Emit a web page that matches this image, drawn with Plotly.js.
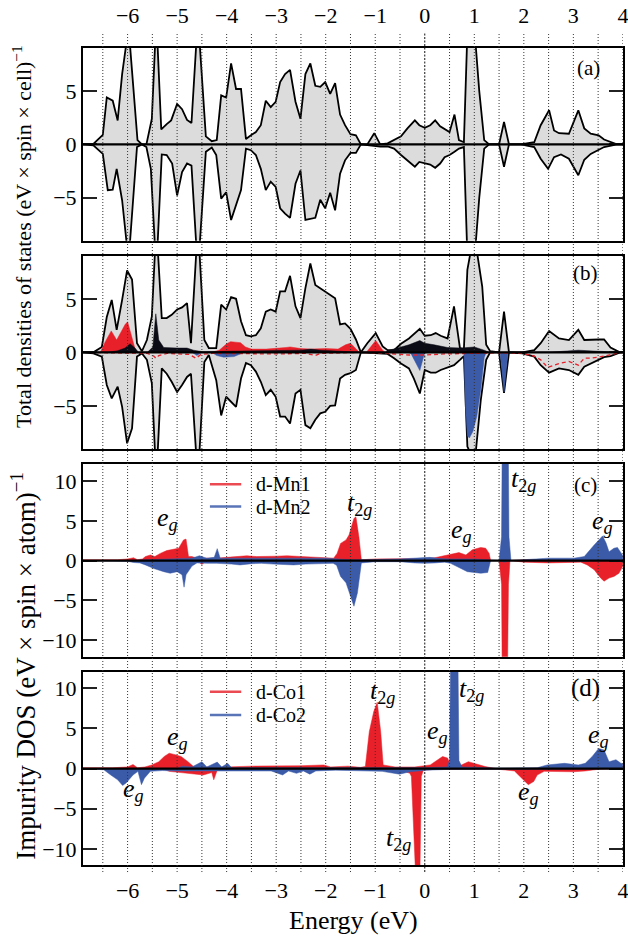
<!DOCTYPE html>
<html>
<head>
<meta charset="utf-8">
<script src="https://cdn.plot.ly/plotly-3.0.1.min.js"></script>
<style>html,body{margin:0;padding:0;background:#fff;}#plot{width:628px;height:950px;}</style>
</head>
<body>
<div id="plot"></div>
<script>
// ---------------- DATA (energy eV, DOS) ----------------
const xTicks = [-6,-5,-4,-3,-2,-1,0,1,2,3,4];
const gridE = [-6.5,-6,-5.5,-5,-4.5,-4,-3.5,-3,-2.5,-2,-1.5,-1,-0.5,0,0.5,1,1.5,2,2.5,3,3.5,4];

// panel (a): total DOS, spin up / spin down
const aUp = [[-6.9,0],[-6.69,0.05],[-6.5,0.9],[-6.42,4.4],[-6.3,4.1],[-6.2,2.25],[-6.11,6.6],[-5.98,11],[-5.8,0.4],[-5.71,0],[-5.62,0],[-5.51,2.4],[-5.42,12],[-5.32,1.4],[-5.21,1.9],[-5.12,2.25],[-5.0,3.8],[-4.9,3.3],[-4.8,2.3],[-4.71,2.0],[-4.58,12],[-4.42,0.75],[-4.3,0.3],[-4.2,0.4],[-4.11,4.6],[-4.01,4.4],[-3.91,7.6],[-3.81,5.2],[-3.71,5.2],[-3.61,0.5],[-3.51,0.85],[-3.41,1.15],[-3.31,1.8],[-3.21,4.1],[-3.11,3.5],[-3.01,4.0],[-2.92,5.85],[-2.82,6.6],[-2.72,7.0],[-2.61,4.0],[-2.51,2.4],[-2.41,6.6],[-2.31,7.6],[-2.21,5.5],[-2.11,5.4],[-2.01,5.85],[-1.91,4.75],[-1.81,5.75],[-1.71,2.8],[-1.61,1.8],[-1.5,0.95],[-1.39,0.85],[-1.29,0],[-1.16,0],[-1.02,1.05],[-0.9,0],[-0.75,0.1],[-0.62,0.4],[-0.48,0.75],[-0.35,1.5],[-0.2,2.25],[-0.11,1.8],[0,1.55],[0.11,1.8],[0.21,2.25],[0.31,1.7],[0.4,1.4],[0.5,1.15],[0.6,2.8],[0.69,0.4],[0.79,0.2],[0.83,7],[0.87,12],[0.95,14],[1.03,9.3],[1.1,5],[1.2,0.4],[1.3,0],[1.5,0],[1.6,2.1],[1.7,0],[1.94,0],[2.21,0.2],[2.34,1.8],[2.51,3.2],[2.61,1.3],[2.71,1.05],[2.91,1.0],[3.1,3.2],[3.22,1.5],[3.35,1.0],[3.51,0.85],[3.62,0.45],[3.72,0.3],[3.88,0],[4.0,0]];
const aDn = [[-6.9,0],[-6.69,-0.1],[-6.5,-0.9],[-6.4,-4.3],[-6.3,-4.25],[-6.22,-2.3],[-6.11,-5.25],[-5.98,-11],[-5.81,-0.25],[-5.71,0],[-5.62,-0.25],[-5.53,-2.3],[-5.42,-12],[-5.31,-0.95],[-5.21,-1.0],[-5.1,-1.8],[-5.0,-4.8],[-4.9,-2.6],[-4.8,-1.8],[-4.71,-2.0],[-4.58,-12],[-4.42,-0.7],[-4.3,-0.3],[-4.21,-1.0],[-4.11,-5.1],[-4.01,-4.5],[-3.91,-7.1],[-3.81,-5.6],[-3.71,-4.3],[-3.61,-0.4],[-3.51,-0.55],[-3.41,-1.0],[-3.31,-2.3],[-3.21,-4.3],[-3.11,-3.5],[-3.01,-4.0],[-2.92,-6.0],[-2.82,-6.5],[-2.72,-6.9],[-2.61,-3.7],[-2.51,-2.45],[-2.41,-7.1],[-2.31,-7.0],[-2.21,-6.9],[-2.11,-5.2],[-2.01,-6.0],[-1.91,-4.55],[-1.81,-6.2],[-1.71,-2.75],[-1.61,-1.5],[-1.5,-0.8],[-1.39,-0.8],[-1.29,0],[-0.9,-0.2],[-0.75,-0.2],[-0.62,-0.4],[-0.48,-1.0],[-0.35,-1.5],[-0.2,-2.1],[-0.11,-1.65],[0,-1.75],[0.11,-1.9],[0.21,-2.2],[0.31,-1.8],[0.4,-1.2],[0.5,-1.0],[0.6,-0.7],[0.69,-0.4],[0.79,-0.25],[0.83,-7],[0.87,-12],[0.95,-14],[1.03,-9.3],[1.1,-5],[1.2,-0.4],[1.3,0],[1.5,0],[1.6,-2.1],[1.7,0],[1.94,0],[2.21,-0.25],[2.34,-1.35],[2.49,-2.3],[2.61,-1.2],[2.75,-0.95],[2.91,-1.35],[3.1,-2.9],[3.22,-1.45],[3.35,-0.9],[3.51,-0.55],[3.62,-0.25],[3.88,0],[4.0,0]];

// panel (b): total DOS + partial contributions
const bUp = [[-6.9,0],[-6.69,0],[-6.52,0.5],[-6.42,3.3],[-6.32,4.9],[-6.22,2.1],[-6.11,4.9],[-6.01,7.65],[-5.91,6.8],[-5.81,0.85],[-5.71,0.1],[-5.61,1.15],[-5.51,3.35],[-5.42,12],[-5.31,3.2],[-5.21,3.2],[-5.11,3.5],[-5.0,4.0],[-4.9,4.2],[-4.8,4.6],[-4.72,0.85],[-4.58,12],[-4.45,1.15],[-4.36,0.4],[-4.21,0.4],[-4.11,4.45],[-4.01,4.0],[-3.91,5.15],[-3.81,5.0],[-3.71,2.9],[-3.61,1.6],[-3.51,1.5],[-3.41,1.6],[-3.31,2.25],[-3.21,3.8],[-3.11,4.0],[-3.01,3.8],[-2.92,5.7],[-2.82,5.7],[-2.72,7.15],[-2.61,4.3],[-2.51,3.2],[-2.41,6.0],[-2.31,8.3],[-2.21,6.3],[-2.11,6.0],[-2.01,5.7],[-1.91,5.4],[-1.81,5.05],[-1.71,2.6],[-1.61,2.7],[-1.5,2.2],[-1.39,1.2],[-1.29,0],[-1.16,0.85],[-0.99,1.8],[-0.85,0.55],[-0.75,0.2],[-0.62,0.2],[-0.48,0.8],[-0.32,1.3],[-0.1,2.2],[0,1.55],[0.12,1.6],[0.22,1.8],[0.32,1.55],[0.46,1.3],[0.59,4.3],[0.71,0.4],[0.79,0.3],[0.86,7.7],[0.93,9.5],[0.99,9.6],[1.06,9.2],[1.16,6.15],[1.24,0.7],[1.32,0.1],[1.5,0],[1.6,3.8],[1.7,0],[1.97,0],[2.21,0.2],[2.34,0.85],[2.51,2.0],[2.71,1.3],[2.91,1.15],[3.1,2.1],[3.22,1.15],[3.35,1.2],[3.51,1.2],[3.62,1.2],[3.75,0.45],[3.92,0.05],[4.0,0]];
const bDn = [[-6.9,0],[-6.69,-0.1],[-6.52,-0.4],[-6.42,-3.05],[-6.32,-4.3],[-6.2,-3.2],[-6.11,-5.1],[-6.01,-8.5],[-5.91,-7.1],[-5.81,-0.4],[-5.71,-0.1],[-5.61,-0.7],[-5.51,-2.9],[-5.42,-12],[-5.31,-1.5],[-5.21,-2.0],[-5.11,-2.75],[-5.0,-3.7],[-4.9,-3.05],[-4.8,-2.3],[-4.72,-2.0],[-4.58,-12],[-4.45,-0.9],[-4.36,-0.25],[-4.21,-2.6],[-4.11,-5.9],[-4.01,-4.15],[-3.91,-4.6],[-3.81,-5.1],[-3.71,-2.45],[-3.61,-1.0],[-3.51,-1.2],[-3.41,-1.8],[-3.31,-2.75],[-3.21,-4.0],[-3.11,-3.5],[-3.01,-4.15],[-2.92,-6.0],[-2.82,-6.0],[-2.72,-6.65],[-2.61,-3.85],[-2.51,-3.5],[-2.41,-6.8],[-2.31,-7.1],[-2.21,-6.3],[-2.11,-5.7],[-2.01,-5.55],[-1.91,-5.0],[-1.81,-4.95],[-1.71,-2.45],[-1.61,-2.1],[-1.5,-1.95],[-1.39,-1.65],[-1.29,0],[-0.75,-0.15],[-0.62,-0.55],[-0.48,-1.05],[-0.32,-1.5],[-0.22,-2.45],[-0.1,-3.85],[0,-1.65],[0.12,-1.9],[0.22,-1.9],[0.32,-1.65],[0.46,-1.4],[0.59,-1.2],[0.71,-0.7],[0.79,-0.35],[0.86,-8.8],[0.93,-9.5],[1.03,-9.3],[1.13,-4.5],[1.24,-0.7],[1.32,0],[1.5,0],[1.6,-3.8],[1.7,0],[1.97,-0.1],[2.21,-0.4],[2.34,-1.2],[2.51,-1.9],[2.71,-1.5],[2.91,-1.65],[3.1,-2.1],[3.22,-1.35],[3.35,-1.05],[3.51,-0.7],[3.62,-0.45],[3.75,-0.35],[3.92,-0.05],[4.0,0]];
const bRedUp = [[-6.9,0],[-6.55,0],[-6.45,1.0],[-6.33,2.0],[-6.22,1.15],[-6.05,2.6],[-6.0,2.85],[-5.92,1.5],[-5.83,0],[-5.6,0],[-5.45,0.3],[-5.3,0.2],[-4.8,0.2],[-4.6,0],[-4.3,0],[-4.15,0.2],[-4.0,0.8],[-3.92,1.0],[-3.72,0.9],[-3.62,0.5],[-3.5,0.3],[-3.2,0.3],[-3.0,0.35],[-2.8,0.45],[-2.72,0.5],[-2.5,0.35],[-2.3,0.3],[-2.0,0.35],[-1.75,0.3],[-1.6,0.7],[-1.5,0.85],[-1.43,0.5],[-1.32,0],[-1.18,0],[-0.99,1.1],[-0.85,0.2],[-0.8,0],[0.8,0],[0.95,0.25],[1.15,0.15],[1.3,0],[4.0,0]];
const bBlackUp = [[-6.9,0],[-6.4,0],[-6.2,0.15],[-6.05,0.4],[-5.95,0.8],[-5.85,0.4],[-5.78,0],[-5.6,0],[-5.49,0.5],[-5.43,3.6],[-5.37,1.15],[-5.27,0.45],[-5.0,0.4],[-4.8,0.4],[-4.67,0.2],[-4.47,0.05],[-4.0,0.1],[-3.5,0.15],[-3.0,0.15],[-2.5,0.2],[-2.3,0.3],[-2.1,0.2],[-1.7,0.1],[-1.5,0.05],[-1.3,0],[-0.8,0],[-0.75,0.15],[-0.48,0.5],[-0.32,0.7],[-0.1,1.1],[0,0.85],[0.19,0.7],[0.46,0.45],[0.73,0.4],[1.0,0.5],[1.2,0.2],[1.3,0],[2.5,0],[2.8,0.1],[3.1,0.2],[3.5,0.1],[3.9,0],[4.0,0]];
const bBlueDn = [[-6.9,0],[-4.7,0],[-4.6,-0.3],[-4.5,0],[-4.3,0],[-4.2,-0.3],[-4.06,-0.45],[-3.85,-0.4],[-3.75,-0.2],[-3.65,0],[-0.35,0],[-0.28,-0.1],[-0.1,-1.7],[-0.05,-0.7],[0,0],[0.79,0],[0.82,-5],[0.86,-7.8],[0.9,-8.0],[0.97,-7.4],[1.05,-6.0],[1.13,-3.5],[1.2,-0.5],[1.24,0],[1.52,0],[1.6,-3.7],[1.68,0],[4.0,0]];
const bRedDn = [[-6.9,0],[-6.5,-0.05],[-6.0,-0.1],[-5.6,-0.1],[-5.47,-0.35],[-5.43,-0.55],[-5.37,-0.3],[-5.2,-0.1],[-4.75,-0.2],[-4.62,-0.55],[-4.52,-0.2],[-4.3,-0.1],[-3.0,-0.15],[-2.4,-0.1],[-2.21,-0.3],[-2.1,-0.1],[-1.3,0],[-0.75,-0.1],[-0.32,-0.25],[0,-0.25],[0.4,-0.15],[1.0,-0.1],[1.5,-0.05],[1.97,-0.1],[2.21,-0.35],[2.34,-0.7],[2.48,-1.4],[2.71,-1.05],[2.91,-0.85],[3.1,-1.2],[3.22,-0.55],[3.35,-0.55],[3.62,-0.35],[3.92,-0.05],[4.0,0]];

// panel (c): impurity d-DOS, Mn1 / Mn2
const cMn1Up = [[-6.9,0.1],[-6.5,0.1],[-6.2,0.1],[-6.0,0.2],[-5.88,0.35],[-5.8,0.1],[-5.7,0.2],[-5.64,0.5],[-5.54,0.7],[-5.45,0.5],[-5.34,0.9],[-5.21,1.25],[-5.07,1.45],[-4.97,1.55],[-4.87,2.6],[-4.82,2.7],[-4.77,0.5],[-4.7,0.5],[-4.6,0.3],[-4.5,0.2],[-4.4,0.3],[-4.2,0.3],[-4.0,0.4],[-3.86,0.5],[-3.59,0.6],[-3.4,0.5],[-3.19,0.5],[-3.0,0.55],[-2.78,0.6],[-2.5,0.5],[-2.24,0.5],[-2.0,0.4],[-1.84,0.3],[-1.77,0.9],[-1.7,2.15],[-1.59,2.6],[-1.53,3.2],[-1.43,5.3],[-1.39,5.5],[-1.33,3.0],[-1.28,0.1],[-1.0,0.2],[-0.6,0.2],[-0.3,0.2],[0,0.25],[0.2,0.35],[0.32,0.5],[0.52,0.7],[0.69,1.0],[0.83,0.7],[0.96,1.35],[1.13,1.65],[1.23,1.55],[1.3,0.9],[1.33,0],[1.5,0],[1.6,0.2],[1.75,0],[2.0,0.1],[3.0,0.1],[4.0,0.1]];
const cMn1Dn = [[-6.9,0],[-4.6,0],[-4.5,-0.5],[-4.4,0],[-4.3,-0.1],[-3.8,-0.05],[-1.3,0],[-0.5,-0.1],[1.45,0],[1.5,0],[1.55,-3],[1.57,-20],[1.66,-20],[1.69,-3],[1.72,0],[2.0,-0.2],[2.5,-0.3],[3.0,-0.25],[3.15,-0.2],[3.28,-0.55],[3.42,-1.15],[3.55,-2.2],[3.62,-2.6],[3.72,-2.2],[3.82,-2.0],[3.92,-1.6],[3.99,-0.75],[4.0,-0.7]];
const cMn2Up = [[-6.9,0],[-5.9,0],[-5.6,0.1],[-5.0,0.2],[-4.7,0.3],[-4.55,0.6],[-4.4,0.3],[-4.25,0.4],[-4.19,1.5],[-4.13,0.3],[-3.9,0.3],[-3.5,0.3],[-3.0,0.25],[-2.5,0.3],[-2.0,0.3],[-1.5,0.1],[-1.2,0.1],[-0.5,0.2],[-0.1,0.35],[0.1,0.4],[0.3,0.25],[0.5,0.2],[1.0,0.2],[1.45,0],[1.5,0],[1.55,3],[1.57,20],[1.68,20],[1.7,3],[1.74,0],[2.0,0.1],[2.5,0.3],[3.01,0.3],[3.22,0.5],[3.42,1.95],[3.59,3.1],[3.66,2.2],[3.72,1.1],[3.82,1.55],[3.89,1.65],[3.99,0.7],[4.0,0.6]];
const cMn2Dn = [[-6.9,0],[-6.5,-0.05],[-6.0,-0.1],[-5.88,-0.25],[-5.75,-0.3],[-5.64,-0.55],[-5.47,-1.0],[-5.27,-1.4],[-5.14,-1.6],[-5.0,-1.4],[-4.9,-1.8],[-4.86,-3.35],[-4.82,-1.8],[-4.7,-0.7],[-4.6,-0.3],[-4.4,-0.35],[-4.2,-0.35],[-3.9,-0.45],[-3.73,-0.55],[-3.5,-0.4],[-3.3,-0.35],[-3.05,-0.45],[-2.8,-0.5],[-2.65,-0.55],[-2.4,-0.45],[-2.1,-0.4],[-1.85,-0.35],[-1.78,-0.6],[-1.7,-2.0],[-1.59,-2.8],[-1.49,-4.5],[-1.43,-5.75],[-1.36,-4.1],[-1.28,-0.3],[-1.0,-0.15],[-0.5,-0.15],[-0.2,-0.3],[0,-0.35],[0.2,-0.3],[0.4,-0.2],[0.52,-0.35],[0.73,-1.0],[0.86,-1.4],[1.0,-1.5],[1.13,-1.6],[1.27,-1.5],[1.33,0],[1.5,0],[1.6,-0.2],[1.75,0],[2.5,-0.1],[3.0,-0.15],[3.2,-0.1],[3.5,0],[4.0,0]];

// panel (d): impurity d-DOS, Co1 / Co2
const dCo1Up = [[-6.9,0.1],[-6.3,0.1],[-6.0,0.2],[-5.89,0.5],[-5.8,0.1],[-5.65,0.2],[-5.51,0.45],[-5.37,0.85],[-5.26,1.5],[-5.16,1.9],[-5.02,1.7],[-4.92,1.5],[-4.78,0.85],[-4.67,0.25],[-4.4,0.2],[-4.0,0.2],[-3.5,0.3],[-3.0,0.3],[-2.5,0.35],[-2.04,0.45],[-1.9,0.2],[-1.55,0.3],[-1.3,0.15],[-1.2,0.25],[-1.12,4.6],[-1.03,7.1],[-0.96,8.25],[-0.89,4.6],[-0.84,0.45],[-0.6,0.2],[-0.2,0.2],[0.11,0.45],[0.25,1.1],[0.36,1.5],[0.46,1.3],[0.52,0.45],[0.6,0.3],[0.74,0.45],[0.88,0.85],[1.0,0.65],[1.22,0.25],[1.43,0],[2.0,0],[2.5,0.1],[3.0,0.1],[4.0,0]];
const dCo1Dn = [[-6.9,0],[-5.3,0],[-5.16,-0.35],[-4.74,-0.6],[-4.47,-0.8],[-4.3,-0.5],[-4.26,-1.4],[-4.19,-0.2],[-3.5,-0.15],[-2.0,-0.1],[-1.0,-0.15],[-0.5,-0.3],[-0.41,-0.35],[-0.3,-0.6],[-0.27,-1.0],[-0.18,-14],[-0.1,-14],[-0.07,-1],[-0.03,-0.2],[0.2,-0.1],[1.5,-0.1],[1.81,-0.3],[1.92,-1.0],[1.99,-1.4],[2.09,-2.0],[2.2,-1.6],[2.27,-0.8],[2.41,-0.35],[3.0,-0.4],[3.24,-0.3],[3.5,-0.1],[4.0,0]];
const dCo2Up = [[-6.9,0],[-5.0,0],[-4.9,0.3],[-4.7,0.2],[-4.5,0.85],[-4.4,0.2],[-4.19,0.8],[-4.1,0.2],[-3.98,0.65],[-3.9,0.1],[-3.0,0.1],[-2.0,0.1],[-1.0,0.05],[0,0.1],[0.45,0.2],[0.5,1.0],[0.53,20],[0.66,20],[0.69,1.0],[0.75,0.2],[1.5,0.05],[2.27,0.1],[2.47,0.45],[2.82,0.65],[3.1,0.45],[3.24,0.65],[3.38,1.5],[3.51,2.5],[3.62,2.3],[3.72,0.85],[3.86,1.1],[3.96,0.65],[4.0,0.6]];
const dCo2Dn = [[-6.9,0],[-6.6,-0.05],[-6.48,-0.15],[-6.34,-0.8],[-6.2,-1.4],[-6.1,-2.1],[-6.03,-1.8],[-5.89,-0.8],[-5.79,-0.35],[-5.72,-2.0],[-5.66,-1.2],[-5.54,-0.35],[-5.3,-0.25],[-5.0,-0.3],[-4.5,-0.3],[-4.1,-0.35],[-3.8,-0.3],[-3.36,-0.35],[-3.1,-0.3],[-2.87,-0.8],[-2.75,-0.3],[-2.59,-0.6],[-2.45,-0.3],[-2.32,-0.7],[-2.2,-0.3],[-1.8,-0.2],[-1.2,-0.3],[-0.86,-0.35],[-0.51,-0.7],[-0.3,-0.4],[0.04,-0.2],[0.5,-0.1],[1.0,-0.1],[2.0,-0.1],[4.0,0]];

const legendNamesC = ['d-Mn1','d-Mn2'];
const legendNamesD = ['d-Co1','d-Co2'];

// orbital labels: [letter, subscript, energy, value]
const labelsC = [['e','g',-5.2,5.2],['t','2g',-1.31,7.1],['e','g',0.74,3.7],['t','2g',1.99,10.2],['e','g',3.58,4.8]];
const labelsD = [['t','2g',-0.86,9.5],['e','g',-4.99,3.8],['e','g',-5.89,-2.65],['e','g',0.25,4.5],['t','2g',0.95,9.8],['t','2g',-0.54,-8.8],['e','g',2.09,-3.0],['e','g',3.51,4.0]];

// ---------------- STYLE ----------------
const FONT = 'Liberation Serif, Times New Roman, serif';
const XR = [-6.9, 4.002];
const GRAY = '#dcdcdc', RED = '#e8202a', BLUE = '#3b5aa8', BLK = '#0b0b16';
const LRED = '#ec4a52', LBLUE = '#5a74b8';

function xs(p){return p.map(d=>d[0]);}
function ys(p){return p.map(d=>d[1]);}
function fillTr(p, xa, ya, fc, lc, lw, name){
  return {type:'scatter', mode:'lines', x:xs(p), y:ys(p), xaxis:xa, yaxis:ya, name:name||'',
    fill:'tozeroy', fillcolor:fc, line:{color:lc, width:lw, shape:'linear'},
    hoverinfo:'skip', showlegend:false};
}
const traces = [
  fillTr(aUp,'x','y',GRAY,'black',1.8),
  fillTr(aDn,'x','y',GRAY,'black',1.8),
  fillTr(bUp,'x2','y2',GRAY,'black',1.8),
  fillTr(bDn,'x2','y2',GRAY,'black',1.8),
  fillTr(bRedUp,'x2','y2',RED,RED,0.5),
  fillTr(bBlackUp,'x2','y2',BLK,BLK,0.5),
  fillTr(bBlueDn,'x2','y2',BLUE,BLUE,0.5),
  {type:'scatter', mode:'lines', x:xs(bRedDn), y:ys(bRedDn), xaxis:'x2', yaxis:'y2',
   line:{color:RED, width:1.3, dash:'4px,3px'}, hoverinfo:'skip', showlegend:false},
  fillTr(cMn1Up,'x3','y3',RED,RED,0.5,legendNamesC[0]),
  fillTr(cMn1Dn,'x3','y3',RED,RED,0.5,legendNamesC[0]),
  fillTr(cMn2Up,'x3','y3',BLUE,BLUE,0.5,legendNamesC[1]),
  fillTr(cMn2Dn,'x3','y3',BLUE,BLUE,0.5,legendNamesC[1]),
  fillTr(dCo1Up,'x4','y4',RED,RED,0.5,legendNamesD[0]),
  fillTr(dCo1Dn,'x4','y4',RED,RED,0.5,legendNamesD[0]),
  fillTr(dCo2Up,'x4','y4',BLUE,BLUE,0.5,legendNamesD[1]),
  fillTr(dCo2Dn,'x4','y4',BLUE,BLUE,0.5,legendNamesD[1])
];

// geometry (paper fractions)
const dom = {a:[0.7641,1.0], b:[0.5092,0.7458], c:[0.2550,0.4908], d:[0,0.2366]};

function xAx(anchor, showLabels, side){
  return {domain:[0,1], anchor:anchor, range:XR, tickvals:xTicks, ticks:'', showticklabels:showLabels,
    side:side, showgrid:false, zeroline:false, showline:true, mirror:true, linecolor:'black', linewidth:2,
    ticklabelstandoff:(side==='top'?14:5), ticklabeloverflow:'allow',
    tickfont:{family:FONT, size:22, color:'black'}, layer:'above traces', fixedrange:true};
}
function yAx(anchor, d, r, tv){
  return {domain:d, anchor:anchor, range:r, tickvals:tv, ticks:'inside', ticklen:14, tickwidth:2, tickcolor:'#222',
    showgrid:false, zeroline:false, showline:true, mirror:'ticks', linecolor:'black', linewidth:2,
    tickfont:{family:FONT, size:22, color:'black'}, layer:'above traces', fixedrange:true};
}

const shapes = [];
gridE.forEach(e=>{
  shapes.push({type:'line', xref:'x', yref:'paper', x0:e, x1:e, y0:-0.0086, y1:1.0196,
    line:{color: e===0 ? '#111' : '#333', width:1, dash: e===0 ? '2px,1.5px' : '1px,2px'}, layer:'above'});
});
[['x','y'],['x2','y2'],['x3','y3'],['x4','y4']].forEach(([xa,ya])=>{
  shapes.push({type:'line', xref:xa, yref:ya, x0:XR[0], x1:XR[1], y0:0, y1:0, line:{color:'black', width:2.3}, layer:'above'});
});

const annotations = [
  {xref:'paper', yref:'paper', x:-0.113, y:0.770, text:'Total densities of states (eV × spin × cell)<sup>−1</sup>',
   textangle:-90, showarrow:false, xanchor:'center', yanchor:'middle', font:{family:FONT, size:22, color:'black'}},
  {xref:'paper', yref:'paper', x:-0.111, y:0.244, text:'Impurity DOS (eV × spin × atom)<sup>−1</sup>',
   textangle:-90, showarrow:false, xanchor:'center', yanchor:'middle', font:{family:FONT, size:27, color:'black'}},
  {xref:'paper', yref:'paper', x:0.5, y:-0.0685, text:'Energy (eV)', showarrow:false, xanchor:'center', yanchor:'middle',
   font:{family:FONT, size:26, color:'black'}},
  {xref:'x domain', yref:'y domain', x:0.936, y:0.896, text:'(a)', showarrow:false, xanchor:'center', yanchor:'middle', font:{family:FONT, size:21, color:'black'}},
  {xref:'x2 domain', yref:'y2 domain', x:0.931, y:0.912, text:'(b)', showarrow:false, xanchor:'center', yanchor:'middle', font:{family:FONT, size:21, color:'black'}},
  {xref:'x3 domain', yref:'y3 domain', x:0.931, y:0.891, text:'(c)', showarrow:false, xanchor:'center', yanchor:'middle', font:{family:FONT, size:21, color:'black'}},
  {xref:'x4 domain', yref:'y4 domain', x:0.931, y:0.916, text:'(d)', showarrow:false, xanchor:'center', yanchor:'middle', font:{family:FONT, size:25, color:'black'}}
];
function orb(l, xa, ya){
  annotations.push({xref:xa, yref:ya, x:l[2], y:l[3], text:'<i>'+l[0]+'</i><sub>'+(l[1]==='g'?'<i>g</i>':'2<i>g</i>')+'</sub>',
    showarrow:false, xanchor:'center', yanchor:'middle', font:{family:FONT, size:26, color:'black'}});
}
labelsC.forEach(l=>orb(l,'x3','y3'));
labelsD.forEach(l=>orb(l,'x4','y4'));

// in-panel keys (line sample + name), positioned in the panel's domain fraction
function key(names, xa, ya, rows){
  names.forEach((n,i)=>{
    const col = i===0 ? LRED : LBLUE;
    shapes.push({type:'line', xref:xa+' domain', yref:ya+' domain', x0:0.235, x1:0.293, y0:rows[i], y1:rows[i],
      line:{color:col, width:2.5}, layer:'above'});
    annotations.push({xref:xa+' domain', yref:ya+' domain', x:0.316, y:rows[i], text:n, showarrow:false,
      xanchor:'left', yanchor:'middle', font:{family:FONT, size:20, color:'black'}});
  });
}
key(legendNamesC, 'x3', 'y3', [0.895, 0.779]);
key(legendNamesD, 'x4', 'y4', [0.896, 0.776]);

const layout = {
  width:628, height:950, margin:{l:83, r:5, t:48, b:85}, paper_bgcolor:'white', plot_bgcolor:'white',
  font:{family:FONT, size:20, color:'black'}, showlegend:false,
  xaxis:xAx('y', true, 'top'),
  xaxis2:xAx('y2', false, 'bottom'),
  xaxis3:xAx('y3', false, 'bottom'),
  xaxis4:xAx('y4', true, 'bottom'),
  yaxis:yAx('x', dom.a, [-9.05,9.05], [-5,0,5]),
  yaxis2:yAx('x2', dom.b, [-9.03,9.03], [-5,0,5]),
  yaxis3:yAx('x3', dom.c, [-12.1,12.15], [-10,-5,0,5,10]),
  yaxis4:yAx('x4', dom.d, [-12,12.05], [-10,-5,0,5,10]),
  shapes:shapes, annotations:annotations
};
Plotly.newPlot('plot', traces, layout, {displayModeBar:false, staticPlot:true});
</script>
</body>
</html>
